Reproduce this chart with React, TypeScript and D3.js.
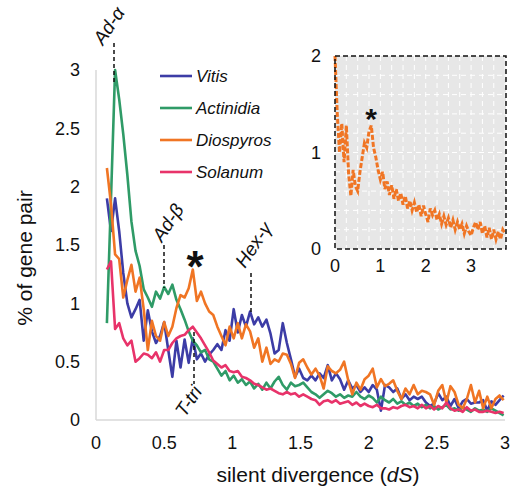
import React from "react";
import * as d3 from "d3";

// main chart: dS starts at 0.08, step 0.03
const X_START = 0.08;
const X_STEP = 0.03;
const vitis = [1.9,1.62,1.9,1.62,1.26,1.0,0.88,0.95,1.03,0.68,0.94,0.76,0.66,0.72,0.84,0.6,0.37,0.68,0.45,0.69,0.49,0.7,0.52,0.57,0.5,0.56,0.6,0.65,0.6,0.77,0.68,0.95,0.75,0.9,0.8,0.93,0.82,0.88,0.8,0.86,0.74,0.57,0.6,0.83,0.66,0.52,0.37,0.44,0.36,0.34,0.38,0.34,0.4,0.36,0.47,0.34,0.4,0.35,0.26,0.34,0.27,0.3,0.24,0.28,0.24,0.3,0.26,0.08,0.3,0.28,0.24,0.27,0.18,0.22,0.17,0.2,0.18,0.2,0.15,0.12,0.14,0.23,0.17,0.2,0.12,0.18,0.1,0.16,0.18,0.14,0.15,0.15,0.17,0.08,0.16,0.13,0.17,0.21];
const actinidia = [0.83,1.9,3.0,2.75,2.45,2.1,1.7,1.45,1.32,1.12,1.05,0.97,1.1,1.04,1.14,1.08,1.16,1.03,0.95,0.86,0.76,0.68,0.64,0.58,0.6,0.52,0.5,0.44,0.38,0.42,0.34,0.38,0.32,0.35,0.3,0.33,0.27,0.31,0.26,0.32,0.27,0.33,0.37,0.3,0.26,0.32,0.29,0.3,0.32,0.28,0.24,0.22,0.19,0.22,0.25,0.23,0.2,0.22,0.19,0.21,0.2,0.24,0.2,0.18,0.21,0.19,0.15,0.2,0.17,0.15,0.18,0.14,0.16,0.13,0.15,0.12,0.14,0.11,0.13,0.1,0.12,0.09,0.11,0.13,0.09,0.1,0.08,0.11,0.09,0.07,0.1,0.08,0.09,0.07,0.1,0.08,0.06,0.04];
const diospyros = [2.16,1.85,1.42,1.38,1.05,1.2,1.33,1.1,1.22,0.95,0.6,0.85,0.72,0.68,0.84,0.72,0.8,0.96,1.07,1.05,1.13,1.29,1.02,1.1,1.0,0.93,0.9,0.8,0.72,0.64,0.8,0.7,0.83,0.7,0.82,0.76,0.62,0.7,0.5,0.62,0.48,0.52,0.5,0.57,0.56,0.48,0.36,0.49,0.52,0.45,0.39,0.44,0.38,0.27,0.46,0.42,0.4,0.43,0.5,0.34,0.22,0.32,0.26,0.35,0.38,0.44,0.28,0.35,0.29,0.31,0.34,0.25,0.18,0.27,0.22,0.3,0.22,0.25,0.24,0.22,0.13,0.25,0.3,0.15,0.29,0.24,0.13,0.1,0.18,0.3,0.15,0.25,0.1,0.2,0.1,0.18,0.21,0.17];
const solanum = [1.29,1.36,0.78,0.83,0.7,0.64,0.68,0.5,0.53,0.57,0.56,0.53,0.58,0.5,0.6,0.6,0.66,0.7,0.72,0.73,0.77,0.8,0.75,0.7,0.64,0.58,0.51,0.48,0.45,0.47,0.42,0.41,0.42,0.37,0.36,0.34,0.31,0.3,0.28,0.26,0.27,0.25,0.23,0.22,0.24,0.22,0.23,0.2,0.22,0.2,0.18,0.17,0.13,0.16,0.17,0.15,0.17,0.14,0.15,0.16,0.13,0.15,0.12,0.14,0.12,0.11,0.13,0.1,0.1,0.09,0.11,0.1,0.12,0.13,0.11,0.12,0.1,0.13,0.1,0.12,0.09,0.12,0.1,0.15,0.1,0.08,0.09,0.07,0.11,0.08,0.09,0.07,0.07,0.08,0.07,0.06,0.07,0.06];

const seriesNames = ["Vitis", "Actinidia", "Diospyros", "Solanum"];
const seriesColors = ["#3c3ca6", "#2f9b67", "#f07524", "#e8336a"];
const seriesValues = [vitis, actinidia, diospyros, solanum];

const xTicks = [0, 0.5, 1, 1.5, 2, 2.5, 3];
const yTicks = [0, 0.5, 1, 1.5, 2, 2.5, 3];

// inset: Diospyros over wider range, step 0.05 from 0
const INSET_STEP = 0.05;
const insetValues = [2.0,1.4,1.0,1.3,0.9,1.28,0.78,0.55,0.82,0.65,0.6,0.8,0.95,1.1,1.05,1.22,1.28,1.05,0.95,0.82,0.72,0.8,0.62,0.7,0.56,0.66,0.52,0.62,0.5,0.58,0.46,0.55,0.42,0.5,0.4,0.48,0.38,0.46,0.34,0.45,0.36,0.28,0.42,0.35,0.4,0.3,0.36,0.26,0.34,0.25,0.32,0.22,0.3,0.2,0.28,0.2,0.26,0.16,0.24,0.18,0.14,0.22,0.28,0.2,0.28,0.16,0.24,0.12,0.22,0.1,0.2,0.1,0.18,0.1,0.2,0.16];
const insetXTicks = [0, 1, 2, 3];
const insetYTicks = [0, 1, 2];

const FONT = "'Liberation Sans', Arial, Helvetica, sans-serif";

export default function App() {
  const x = d3.scaleLinear().domain([0, 3]).range([96, 505]);
  const y = d3.scaleLinear().domain([0, 3]).range([420, 70]);
  const ix = d3.scaleLinear().domain([0, 3.77]).range([335, 506]);
  const iy = d3.scaleLinear().domain([0, 2]).range([249, 56]);

  const line = d3
    .line<number>()
    .x((_, i) => x(X_START + i * X_STEP))
    .y((d) => y(d));
  const insetLine = d3
    .line<number>()
    .x((_, i) => ix(i * INSET_STEP))
    .y((d) => iy(d));

  const insetGridX = d3.range(0.25, 3.77, 0.25);
  const insetGridY = d3.range(0.2, 1.99, 0.2);

  const labelStyle = { fontFamily: FONT, fontSize: 18, fill: "#111" } as const;
  const annStyle = { fontFamily: FONT, fontSize: 19, fontStyle: "italic", fill: "#111" } as const;

  return (
    <div style={{ position: "absolute", left: 0, top: 0 }}>
      <svg width={515} height={487} style={{ display: "block" }}>
        <rect width={515} height={487} fill="#fff" />
        {/* axes */}
        <line x1={x(0)} x2={x(0)} y1={y(3)} y2={y(0)} stroke="#d9d9d9" strokeWidth={1.5} />
        <line x1={x(0)} x2={x(3)} y1={y(0)} y2={y(0)} stroke="#d9d9d9" strokeWidth={1.5} />
        {yTicks.map((t) => (
          <text key={"y" + t} x={80} y={y(t)} dy="0.35em" textAnchor="end" {...labelStyle}>
            {t}
          </text>
        ))}
        {xTicks.map((t) => (
          <text key={"x" + t} x={x(t)} y={449} textAnchor="middle" {...labelStyle}>
            {t}
          </text>
        ))}
        <text
          transform={`translate(32,${258}) rotate(-90)`}
          textAnchor="middle"
          fontFamily={FONT}
          fontSize={21}
          fill="#111"
        >
          % of gene pair
        </text>
        <text x={318} y={482} textAnchor="middle" fontFamily={FONT} fontSize={21} fill="#111">
          silent divergence (<tspan fontStyle="italic">dS</tspan>)
        </text>

        {/* series */}
        {seriesValues.map((vals, k) => (
          <path
            key={seriesNames[k]}
            d={line(vals) || ""}
            fill="none"
            stroke={seriesColors[k]}
            strokeWidth={2.6}
            strokeLinejoin="round"
          />
        ))}

        {/* legend */}
        {seriesNames.map((n, k) => (
          <g key={"lg" + n}>
            <line x1={160} x2={192} y1={76 + k * 32} y2={76 + k * 32} stroke={seriesColors[k]} strokeWidth={2.6} />
            <text x={196} y={76 + k * 32} dy="0.35em" fontFamily={FONT} fontSize={17} fontStyle="italic" fill="#111">
              {n}
            </text>
          </g>
        ))}

        {/* annotations */}
        <line x1={114} x2={114} y1={43} y2={84} stroke="#111" strokeWidth={1.5} strokeDasharray="4,3" />
        <text transform="translate(103,46) rotate(-56)" {...annStyle}>
          Ad-α
        </text>
        <line x1={164} x2={164} y1={245} y2={288} stroke="#111" strokeWidth={1.5} strokeDasharray="4,3" />
        <text transform="translate(162,243) rotate(-56)" {...annStyle}>
          Ad-β
        </text>
        <line x1={251} x2={251} y1={273} y2={314} stroke="#111" strokeWidth={1.5} strokeDasharray="4,3" />
        <text transform="translate(245,269) rotate(-56)" {...annStyle}>
          Hex-γ
        </text>
        <line x1={194} x2={194} y1={332} y2={384} stroke="#111" strokeWidth={1.5} strokeDasharray="4,3" />
        <text transform="translate(185,418) rotate(-56)" {...annStyle}>
          T-tri
        </text>
        <text x={195} y={282} textAnchor="middle" fontFamily={FONT} fontSize={44} fontWeight="bold" fill="#111">
          *
        </text>

        {/* inset */}
        <rect x={ix(0)} y={iy(2)} width={ix(3.77) - ix(0)} height={iy(0) - iy(2)} fill="#e7e7e7" />
        {insetGridX.map((g) => (
          <line key={"igx" + g} x1={ix(g)} x2={ix(g)} y1={iy(2)} y2={iy(0)} stroke="#fff" strokeWidth={1} strokeDasharray="5,4" />
        ))}
        {insetGridY.map((g) => (
          <line key={"igy" + g} x1={ix(0)} x2={ix(3.77)} y1={iy(g)} y2={iy(g)} stroke="#fff" strokeWidth={1} strokeDasharray="5,4" />
        ))}
        <path d={insetLine(insetValues) || ""} fill="none" stroke="#f07524" strokeWidth={3} strokeDasharray="5,2" />
        <rect x={ix(0)} y={iy(2)} width={ix(3.77) - ix(0)} height={iy(0) - iy(2)} fill="none" stroke="#111" strokeWidth={1.5} strokeDasharray="5,3" />
        {insetYTicks.map((t) => (
          <text key={"iy" + t} x={321} y={iy(t)} dy="0.35em" textAnchor="end" {...labelStyle}>
            {t}
          </text>
        ))}
        {insetXTicks.map((t) => (
          <text key={"ix" + t} x={ix(t)} y={272} textAnchor="middle" {...labelStyle}>
            {t}
          </text>
        ))}
        <text x={371} y={129} textAnchor="middle" fontFamily={FONT} fontSize={30} fontWeight="bold" fill="#111">
          *
        </text>
      </svg>
    </div>
  );
}
